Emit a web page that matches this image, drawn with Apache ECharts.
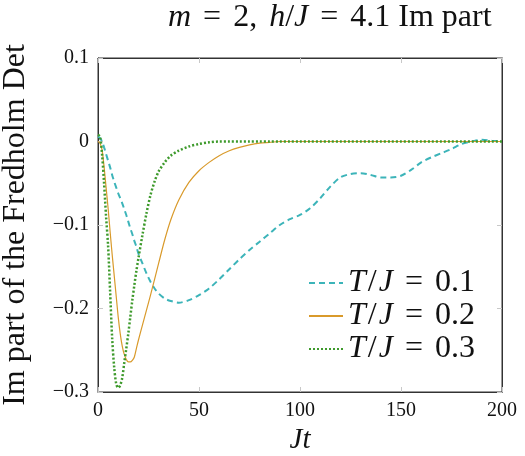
<!DOCTYPE html>
<html>
<head>
<meta charset="utf-8">
<script src="https://cdn.jsdelivr.net/npm/echarts@6/dist/echarts.min.js"></script>
<style>
  html, body { margin: 0; padding: 0; background: #fff; }
  #chart1 { width: 525px; height: 456px; }
</style>
</head>
<body>
<div id="chart1"></div>
<script>
var tValues = [0, 1, 2, 3, 4, 5, 6, 7, 8, 9, 10, 11, 12, 13, 14, 15, 16, 17, 18, 19, 20,
    22, 24, 26, 28, 30, 33, 36, 40, 45, 50, 55, 60, 65, 70, 75, 80, 85, 90, 95, 100,
    105, 110, 115, 120, 125, 130, 135, 140, 145, 150, 155, 160, 165, 170, 175, 180,
    185, 190, 195, 200];

// T/J = 0.1
var imT01 = [0.006, 0.004, 0.0, -0.007, -0.015, -0.023, -0.031, -0.04, -0.048, -0.055, -0.062,
    -0.068, -0.074, -0.081, -0.088, -0.096, -0.104, -0.111, -0.119, -0.126, -0.134,
    -0.146, -0.158, -0.168, -0.176, -0.182, -0.188, -0.191, -0.193, -0.19, -0.184, -0.176,
    -0.165, -0.153, -0.141, -0.13, -0.12, -0.11, -0.1, -0.093, -0.088, -0.08, -0.068,
    -0.054, -0.043, -0.039, -0.038, -0.04, -0.043, -0.043, -0.041, -0.034, -0.025,
    -0.019, -0.014, -0.009, -0.003, 0.0, 0.002, 0.001, 0.0];

// T/J = 0.2
var imT02 = [0.0, -0.002, -0.01, -0.03, -0.055, -0.08, -0.108, -0.135, -0.16, -0.185, -0.21,
    -0.23, -0.245, -0.255, -0.261, -0.264, -0.264, -0.262, -0.258, -0.248, -0.238,
    -0.22, -0.202, -0.184, -0.165, -0.146, -0.118, -0.094, -0.07, -0.049, -0.035, -0.025,
    -0.017, -0.011, -0.007, -0.004, -0.002, -0.001, 0, 0, 0, 0, 0, 0, 0, 0, 0, 0, 0, 0,
    0, 0, 0, 0, 0, 0, 0, 0, 0, 0, 0];

// T/J = 0.3
var imT03 = [0.008, 0.006, -0.015, -0.05, -0.09, -0.125, -0.18, -0.235, -0.27, -0.29, -0.295,
    -0.292, -0.283, -0.265, -0.248, -0.23, -0.21, -0.19, -0.172, -0.155, -0.14,
    -0.112, -0.086, -0.064, -0.048, -0.036, -0.025, -0.017, -0.011, -0.006, -0.003, -0.001,
    0, 0, 0, 0, 0, 0, 0, 0, 0, 0, 0, 0, 0, 0, 0, 0, 0, 0, 0, 0, 0, 0, 0, 0, 0, 0, 0, 0, 0];

var seriesNames = ['T/J = 0.1', 'T/J = 0.2', 'T/J = 0.3'];
var legendLabels = ['{i|T}{s|/}{i|J}{e|=}0.1', '{i|T}{s|/}{i|J}{e|=}0.2', '{i|T}{s|/}{i|J}{e|=}0.3'];

function pairs(ys) {
    return tValues.map(function (t, i) { return [t, ys[i]]; });
}

var serif = 'Liberation Serif';
var tickStyle = { show: true, inside: true, length: 5, lineStyle: { color: '#c8c8c8', width: 1 } };

function yLabel(v) {
    if (Math.abs(v) < 1e-9) return '0';
    return v.toFixed(1).replace('-', '\u2212');
}

var myChart1 = echarts.init(document.getElementById('chart1'));

myChart1.setOption({
    animation: false,
    backgroundColor: '#fff',
    title: {
        text: '{i|m}{e|=}2,{c| }{i|h}/{i|J}{e|=}4.1 Im part',
        left: 163,
        top: -3,
        textStyle: {
            fontFamily: serif, fontSize: 32, fontWeight: 'normal', color: '#111',
            rich: {
                i: { fontFamily: serif, fontSize: 32, fontStyle: 'italic', color: '#111' },
                e: { fontFamily: serif, fontSize: 32, color: '#111', padding: [0, 12] },
                c: { fontFamily: serif, fontSize: 32, color: '#111', padding: [0, 2] }
            }
        }
    },
    legend: {
        orient: 'vertical',
        left: 303,
        top: 262,
        itemWidth: 34,
        itemHeight: 14,
        itemGap: 1,
        itemStyle: { opacity: 0 },
        data: seriesNames,
        formatter: function (name) { return legendLabels[seriesNames.indexOf(name)]; },
        textStyle: {
            fontFamily: serif, fontSize: 32, color: '#111',
            rich: {
                i: { fontFamily: serif, fontSize: 32, fontStyle: 'italic', color: '#111' },
                s: { fontFamily: serif, fontSize: 32, color: '#111', padding: [0, 2] },
                e: { fontFamily: serif, fontSize: 32, color: '#111', padding: [0, 12] }
            }
        }
    },
    grid: {
        left: 98, right: 23, top: 58, bottom: 64,
        outerBoundsMode: 'none', containLabel: false,
        show: true, borderColor: '#333', borderWidth: 1
    },
    xAxis: [{
        type: 'value', min: 0, max: 200, interval: 50,
        name: 'Jt', nameLocation: 'middle', nameGap: 27,
        nameTextStyle: { fontFamily: serif, fontSize: 29, fontStyle: 'italic', color: '#111' },
        axisLine: { show: true, onZero: false, lineStyle: { color: '#333' } },
        axisTick: tickStyle,
        splitLine: { show: false },
        axisLabel: { fontFamily: serif, fontSize: 20, color: '#111', margin: 9 }
    }, {
        type: 'value', position: 'top', min: 0, max: 200, interval: 50,
        axisLine: { show: true, onZero: false, lineStyle: { color: '#333' } },
        axisTick: tickStyle, splitLine: { show: false }, axisLabel: { show: false }
    }],
    yAxis: [{
        type: 'value', min: -0.3, max: 0.1, interval: 0.1,
        name: 'Im part of the Fredholm Det', nameLocation: 'middle', nameGap: 66,
        nameTextStyle: { fontFamily: serif, fontSize: 32, color: '#111' },
        axisLine: { show: true, onZero: false, lineStyle: { color: '#333' } },
        axisTick: tickStyle,
        splitLine: { show: false },
        axisLabel: { fontFamily: serif, fontSize: 20, color: '#111', margin: 9, formatter: yLabel }
    }, {
        type: 'value', position: 'right', min: -0.3, max: 0.1, interval: 0.1,
        axisLine: { show: true, onZero: false, lineStyle: { color: '#333' } },
        axisTick: tickStyle, splitLine: { show: false }, axisLabel: { show: false }
    }],
    series: [
        {
            name: seriesNames[0], type: 'line', data: pairs(imT01), smooth: 0.3,
            symbol: 'none', color: '#3cb4b9',
            lineStyle: { width: 2, type: [6, 4], color: '#3cb4b9' }
        },
        {
            name: seriesNames[1], type: 'line', data: pairs(imT02), smooth: 0.3,
            symbol: 'none', color: '#d99a2b',
            lineStyle: { width: 1.2, type: 'solid', color: '#d99a2b' }
        },
        {
            name: seriesNames[2], type: 'line', data: pairs(imT03), smooth: 0.3,
            symbol: 'none', color: '#3e9a2c',
            lineStyle: { width: 2.5, type: [2, 2], color: '#3e9a2c' }
        }
    ]
});

window.onresize = function () {
    myChart1.resize();
};
</script>
</body>
</html>
